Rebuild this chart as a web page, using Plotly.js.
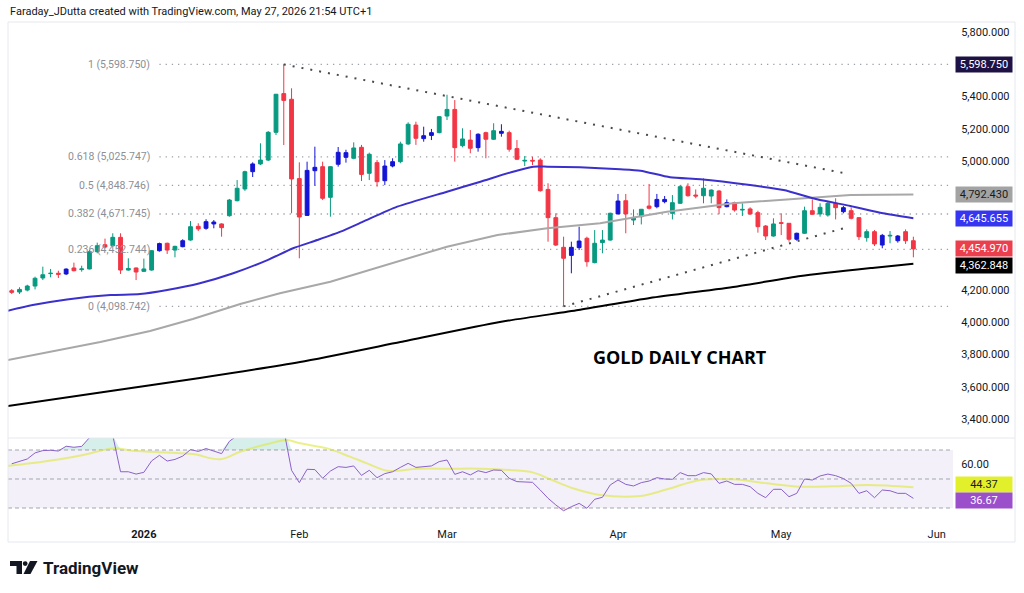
<!DOCTYPE html>
<html><head><meta charset="utf-8">
<script src="https://cdn.plot.ly/plotly-3.0.1.min.js"></script>
<style>html,body{margin:0;padding:0;background:#fff;}#chart{width:1024px;height:593px;}</style>
</head><body><div id="chart"></div>
<script>
// ---------- DATA ----------
const open  = [4196,4188,4200,4225,4275,4302,4304,4300,4337,4327, 4331,4438,4481,4475,4527,4324,4337,4316,4324,4444,
               4490,4448,4469,4510,4595,4583,4610,4610,4661,4754, 4827,4934,4982,5006,5178,5418,5383,4891,4663,4940,
               4965,4775,4980,5023,5017,5085,4924,4990,4878,4969, 4996,5106,5223,5139,5159,5176,5279,5320,5095,5130,
               5083,5176,5135,5184,5176,5077,5000,5004,5006,4824, 4649,4465,4415,4463,4521,4370,4494,4510,4672,4754,
               4634,4655,4721,4717,4748,4676,4738,4841,4789,4785, 4783,4814,4717,4742,4696,4703,4680,4597,4535,4618,
               4614,4515,4552,4692,4672,4665,4738,4686,4692,4649, 4525,4562,4479,4535,4506,4562,4506];
const high  = [4206,4217,4233,4283,4345,4331,4320,4335,4370,4351, 4448,4494,4519,4552,4552,4397,4340,4395,4448,4494,
               4494,4475,4515,4628,4614,4639,4634,4614,4765,4882, 4940,4992,5110,5186,5416,5598.75,5451,4992,4996,5089,
               4996,4968,5087,5070,5116,5100,5052,5006,5006,5017, 5120,5240,5244,5213,5199,5279,5411,5378,5203,5192,
               5172,5182,5234,5228,5188,5130,5031,5027,5017,4862, 4676,4531,4500,4593,4531,4572,4572,4680,4796,4796,
               4700,4701,4858,4796,4783,4789,4851,4862,4824,4893, 4824,4820,4762,4748,4738,4713,4692,4603,4645,4676,
               4614,4556,4717,4762,4738,4748,4769,4721,4713,4651, 4576,4572,4548,4566,4541,4576,4531];
const low   = [4176,4176,4192,4204,4262,4279,4275,4293,4316,4314, 4328,4428,4459,4469,4300,4320,4262,4312,4320,4438,
               4424,4403,4465,4506,4566,4574,4583,4531,4655,4750, 4815,4901,4975,5000,5161,5099,4676,4397,4660,4847,
               4758,4655,4965,4990,5011,4876,4882,4841,4851,4961, 4986,5100,5100,5120,5130,5172,5254,4996,5085,5048,
               5058,5017,5130,5151,5058,5006,4969,4975,4810,4500, 4473,4098.742,4304,4448,4345,4366,4428,4506,4670,4552,
               4603,4607,4700,4707,4738,4638,4734,4779,4769,4738, 4738,4670,4713,4686,4659,4665,4556,4510,4531,4541,
               4500,4506,4548,4665,4655,4655,4638,4676,4638,4510, 4500,4473,4459,4490,4494,4486,4403];
const close = [4186,4204,4225,4273,4295,4304,4298,4330,4320,4331, 4438,4475,4467,4527,4324,4334,4312,4331,4444,4488,
               4448,4471,4506,4593,4579,4624,4622,4587,4758,4831, 4934,4982,5006,5178,5414,5376,4889,4653,4942,4961,
               4769,4965,5054,5052,5081,4917,5042,4872,4969,4996, 5106,5228,5141,5157,5176,5275,5320,5083,5137,5079,
               5166,5135,5188,5172,5073,5011,5004,5000,4816,4649, 4479,4397,4465,4504,4376,4490,4510,4676,4752,4672,
               4649,4701,4707,4762,4762,4742,4841,4785,4783,4831, 4820,4711,4742,4696,4700,4672,4593,4535,4610,4614,
               4515,4552,4692,4670,4713,4738,4711,4711,4645,4531, 4562,4486,4539,4539,4535,4506,4454.97];
// g = green, r = red, b = blue bar colouring
const candleColor = ("rgggggrbrg"+"ggrgrgrggb"+"rgbgrbbrgg"+"gbgggrrrbb"+"rgbbgrgrbb"+
                     "ggrbbggrgr"+"brgbrrgrrr"+"rrbbrgggbr"+"ggrbbggrrg"+"grbrgrrrgr"+
                     "rbgrggrbrr"+"grbgbrr").split('');
const rsi = [60.5,62,63.8,68,69.6,69.8,69.3,72.6,71.9,72.5, 78.5,81,80,80,55,55,53.4,54.6,62.5,66.3,
             62.4,63.5,65.8,70.3,69,71,69.3,67.5,76,80, 82,83,84,86,88,84,56,47.5,56.7,56.5,
             50.5,55.5,58.5,58,59,52.5,56,50.9,53.7,55, 58,60.8,58,58.5,59,62,63.1,53.2,55,52.8,
             55.7,54.4,56.2,56,50.5,48.2,47.7,47.7,42.4,36.7, 32.1,28.1,30.9,33.2,29.8,36,37.4,45.9,49.3,46.3,
             45.2,47.5,48.6,50.9,50,49.8,54.4,52.3,52.3,54.4, 53.5,47,48.6,46.3,46.3,44.7,40.1,37.1,42.9,42.9,
             37.8,40.1,50,49.3,52.1,53.4,52.3,50.3,47,40.1, 41.9,37.1,42.4,41.9,40.1,40.1,36.67];
const rsiMaBar = [-0.5,2.4,6.2,9.2,13,15.6,20,23.3,26.8,29.4,32.9,35.4,37.1,40.6,43.5,45.7,48.3,52.2,56.4,60.3,64.1,67.1,69.3,72.2,75.7,80.9,84.3,88.6,92.8,97.2,101.5,105.7,110.1,116];
const rsiMaVal = [59,60.8,63.6,66.5,71.1,69.5,68.2,67.2,63.6,68.8,74.1,76.9,74.6,71.1,65.4,60.8,55.7,57.1,57.1,57.1,56.2,54.4,49.8,43.6,39,38.3,42.9,49.3,49.8,47,44.7,45,45.9,44.37];
// moving averages (bar index, price)
const maBlueBar = [-0.5,2.7,7.1,12.7,16.5,20,24.2,28.5,32.9,36.2,39.3,42.3,45.2,49.6,56,60.3,64.5,67.1,68.9,73.1,78.3,80.9,84.7,88.6,95,99.3,103.6,107.9,112.1,116];
const maBlueVal = [4072,4107,4142,4169,4175,4200,4242,4304,4386,4459,4510,4562,4624,4717,4810,4872,4934,4965,4965,4961,4949,4940,4899,4887,4851,4820,4763,4721,4676,4645.655];
const maGreyBar = [-0.5,4.9,11.4,17.8,23.3,29.4,34.5,41,47.4,56,62.5,68.9,75.7,84.3,92.8,101.5,107.9,116];
const maGreyVal = [3766,3816,3878,3946,4021,4114,4180,4252,4345,4469,4541,4583,4614,4686,4738,4769,4789,4792.43];
const maBlackBar = [-0.5,11.4,24.2,37.1,50,62.8,72.9,82.1,93.1,101.5,110.7,116];
const maBlackVal = [3481,3565,3655,3754,3878,4002,4076,4151,4221,4287,4337,4362.848];
// Fibonacci retracement
const fibLevels = ['1','0.618','0.5','0.382','0.236','0'];
const fibPrices = [5598.75,5025.747,4848.746,4671.745,4452.744,4098.742];
// trendlines [bar, price]
const trendUpper = [[35,5598.75],[107,4926]];
const trendLower = [[71,4098.742],[107.6,4591]];
// axis ticks
const monthTickBars = [17,37,56,78,99,119];
const monthTickText = ['<b>2026</b>','Feb','Mar','Apr','May','Jun'];
const priceTicks = [3400,3600,3800,4000,4200,5000,5200,5400,5800];

// ---------- LAYOUT HELPERS ----------
const FONT = 'Roboto, "Liberation Sans", Arial, sans-serif';
const PL=8, PR=953, PT=22, PB=518;
const px = v => (v-PL)/(PR-PL);
const py = v => (PB-v)/(PB-PT);
const RSI_TOP = 438;
const splitFrac = (PB-RSI_TOP)/(PB-PT);

const idx = close.map((_, i) => i);
const sel = (arr, set) => arr.map((v,i) => set.includes(candleColor[i]) ? v : null);

const GREEN='#089981', RED='#f23645', BLUE='#1414d6';
const traces = [];
traces.push({x:maGreyBar, y:maGreyVal, type:'scatter', mode:'lines', line:{color:'#a8a8a8', width:2}, xaxis:'x', yaxis:'y'});
traces.push({x:maBlackBar, y:maBlackVal, type:'scatter', mode:'lines', line:{color:'#000000', width:2, shape:'spline', smoothing:0.6}, xaxis:'x', yaxis:'y'});
traces.push({x:maBlueBar, y:maBlueVal, type:'scatter', mode:'lines', line:{color:'#3b30cc', width:2, shape:'spline', smoothing:0.6}, xaxis:'x', yaxis:'y'});
traces.push({type:'candlestick', x:idx, open:sel(open,['g','r']), high:sel(high,['g','r']), low:sel(low,['g','r']), close:sel(close,['g','r']),
  increasing:{line:{color:GREEN,width:1}, fillcolor:GREEN}, decreasing:{line:{color:RED,width:1}, fillcolor:RED}, xaxis:'x', yaxis:'y', whiskerwidth:0});
traces.push({type:'candlestick', x:idx, open:sel(open,['b']), high:sel(high,['b']), low:sel(low,['b']), close:sel(close,['b']),
  increasing:{line:{color:BLUE,width:1}, fillcolor:BLUE}, decreasing:{line:{color:BLUE,width:1}, fillcolor:BLUE}, xaxis:'x', yaxis:'y', whiskerwidth:0});
// RSI fills
traces.push({x:idx, y:idx.map(()=>70), type:'scatter', mode:'lines', line:{width:0, color:'rgba(0,0,0,0)'}, xaxis:'x', yaxis:'y2'});
traces.push({x:idx, y:rsi.map(v=>Math.max(v,70)), type:'scatter', mode:'lines', line:{width:0, color:'rgba(0,0,0,0)'}, fill:'tonexty', fillcolor:'rgba(8,153,129,0.16)', xaxis:'x', yaxis:'y2'});
traces.push({x:idx, y:idx.map(()=>30), type:'scatter', mode:'lines', line:{width:0, color:'rgba(0,0,0,0)'}, xaxis:'x', yaxis:'y2'});
traces.push({x:idx, y:rsi.map(v=>Math.min(v,30)), type:'scatter', mode:'lines', line:{width:0, color:'rgba(0,0,0,0)'}, fill:'tonexty', fillcolor:'rgba(242,54,69,0.14)', xaxis:'x', yaxis:'y2'});
traces.push({x:rsiMaBar, y:rsiMaVal, type:'scatter', mode:'lines', line:{color:'rgba(222,232,60,0.6)', width:2, shape:'spline'}, xaxis:'x', yaxis:'y2'});
traces.push({x:idx, y:rsi, type:'scatter', mode:'lines', line:{color:'#8a62c8', width:1}, xaxis:'x', yaxis:'y2'});

const shapes = [];
// fib lines
fibPrices.forEach(p => shapes.push({type:'line', xref:'x', yref:'y', x0:19, x1:122, y0:p, y1:p, layer:'below',
  line:{color:'#9ea1a9', width:1.3, dash:'1.3px,4.9px'}}));
// trendlines
[trendUpper, trendLower].forEach(t => shapes.push({type:'line', xref:'x', yref:'y', x0:t[0][0], y0:t[0][1], x1:t[1][0], y1:t[1][1],
  line:{color:'#4a4a4a', width:2, dash:'2px,7px'}}));
// RSI band and levels
shapes.push({type:'rect', xref:'paper', yref:'y2', x0:0, x1:1, y0:30, y1:70, fillcolor:'rgba(126,87,194,0.09)', line:{width:0}, layer:'below'});
[70,50,30].forEach(v => shapes.push({type:'line', xref:'paper', yref:'y2', x0:0, x1:1, y0:v, y1:v, layer:'below', line:{color:'#a3a6b0', width:1, dash:'4px,3px'}}));
// frame and pane separator
shapes.push({type:'rect', xref:'paper', yref:'paper', x0:px(8), x1:px(1015), y0:py(542), y1:py(22), line:{color:'#e6e8ee', width:1}});
shapes.push({type:'line', xref:'paper', yref:'paper', x0:px(8), x1:px(1015), y0:py(RSI_TOP), y1:py(RSI_TOP), line:{color:'#e6e8ee', width:1}});
// TradingView logo mark
const pth = pts => 'M ' + pts.map(p => px(p[0]) + ',' + py(p[1])).join(' L ') + ' Z';
shapes.push({type:'path', xref:'paper', yref:'paper', path:pth([[10,561],[22,561],[22,574],[16.5,574],[16.5,566],[10,566]]), fillcolor:'#131722', line:{width:0}});
shapes.push({type:'circle', xref:'paper', yref:'paper', x0:px(22.8), x1:px(27.6), y0:py(566), y1:py(561.2), fillcolor:'#131722', line:{width:0}});
shapes.push({type:'path', xref:'paper', yref:'paper', path:pth([[30,561],[37.5,561],[30.5,574],[23.5,574]]), fillcolor:'#131722', line:{width:0}});

const fmt = (v,d) => v.toLocaleString('en-US',{minimumFractionDigits:d, maximumFractionDigits:d});
const box = (yref, v, d, bg, fg, ys) => ({xref:'paper', x:1, xanchor:'left', xshift:2, yshift:ys||0, yref:yref, y:v, yanchor:'middle',
  text:fmt(v,d), showarrow:false, bgcolor:bg, font:{color:fg, size:11, family:FONT}, width:54, height:13, align:'center', borderpad:1});

const annotations = [];
fibLevels.forEach((lv,i) => annotations.push({xref:'x', yref:'y', x:18.1, y:fibPrices[i], xanchor:'right', yanchor:'middle',
  text: lv + ' (' + fmt(fibPrices[i],3) + ')', showarrow:false, font:{size:10.5, color:'#8c8f97', family:FONT}}));
annotations.push(box('y', fibPrices[0], 3, '#1e1245', '#ffffff'));
annotations.push(box('y', maGreyVal[maGreyVal.length-1], 3, '#a3a3a3', '#1b1b1b'));
annotations.push(box('y', maBlueVal[maBlueVal.length-1], 3, '#3535f2', '#ffffff'));
annotations.push(box('y', close[close.length-1], 3, '#ec3f4d', '#ffffff', 0.5));
annotations.push(box('y', maBlackVal[maBlackVal.length-1], 3, '#000000', '#ffffff', -1.5));
annotations.push(box('y2', rsiMaVal[rsiMaVal.length-1], 2, '#e2ef2b', '#1b1b1b', 3));
annotations.push(box('y2', rsi[rsi.length-1], 2, '#9b4fca', '#ffffff', -2));
annotations.push({xref:'paper', yref:'paper', x:px(8), y:py(12), xanchor:'left', yanchor:'middle', showarrow:false,
  text:'Faraday_JDutta created with TradingView.com, May 27, 2026 21:54 UTC+1', font:{size:11, color:'#131722', family:FONT}});
annotations.push({xref:'paper', yref:'paper', x:px(680), y:py(357), xanchor:'center', yanchor:'middle', showarrow:false,
  text:'GOLD DAILY CHART', font:{size:18, color:'#000000', family:'"Open Sans", Roboto, sans-serif', weight:700}});
annotations.push({xref:'paper', yref:'paper', x:px(41), y:py(568), xanchor:'left', yanchor:'middle', showarrow:false,
  text:'TradingView', font:{size:17, color:'#131722', family:'Roboto, sans-serif', weight:700}});

const layout = {
  width:1024, height:593, margin:{l:PL, r:1024-PR, t:PT, b:593-PB},
  paper_bgcolor:'#ffffff', plot_bgcolor:'#ffffff', showlegend:false, hovermode:false,
  font:{family:FONT, size:11, color:'#131722'},
  xaxis:{range:[-0.48,121.1], anchor:'y2', tickvals:monthTickBars, ticktext:monthTickText, showgrid:false, zeroline:false,
    showline:false, ticks:'outside', ticklen:6, tickcolor:'rgba(0,0,0,0)', tickfont:{size:11, color:'#131722'}, rangeslider:{visible:false}, fixedrange:true},
  yaxis:{domain:[splitFrac,1], range:[3282.8,5862], side:'right', anchor:'x', tickvals:priceTicks, tickformat:',.3f',
    showgrid:false, zeroline:false, showline:false, ticks:'outside', ticklen:5, tickcolor:'rgba(0,0,0,0)', tickfont:{size:11, color:'#131722'}, fixedrange:true},
  yaxis2:{domain:[0,splitFrac], range:[23.1,78.28], side:'right', anchor:'x', tickvals:[60], tickformat:'.2f',
    showgrid:false, zeroline:false, showline:false, ticks:'outside', ticklen:5, tickcolor:'rgba(0,0,0,0)', tickfont:{size:11, color:'#131722'}, fixedrange:true},
  shapes:shapes, annotations:annotations
};
Plotly.newPlot('chart', traces, layout, {staticPlot:true, displayModeBar:false});
</script></body></html>
